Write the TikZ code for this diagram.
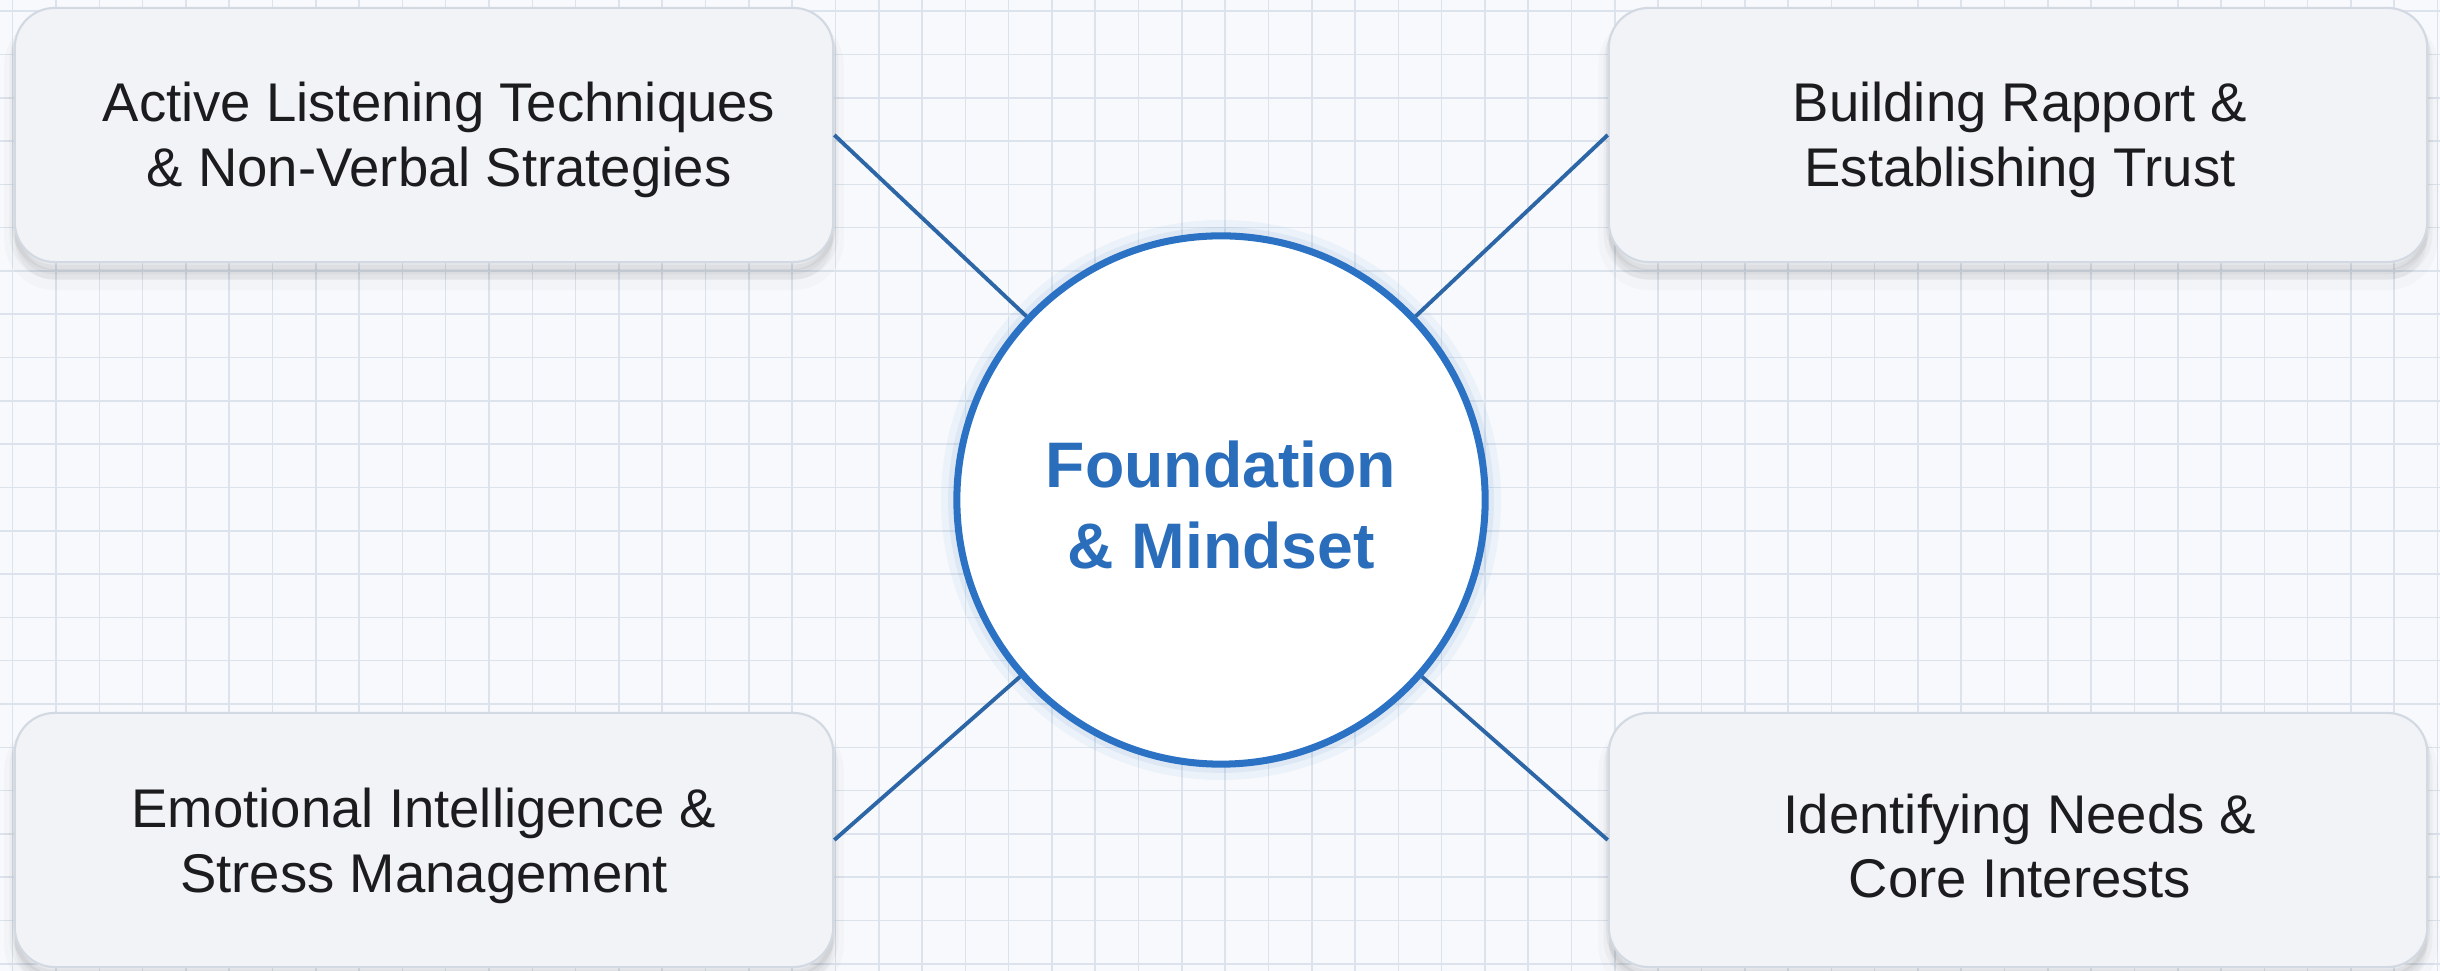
\documentclass[tikz,border=0pt]{standalone}
\usepackage{fontspec}
\setmainfont{Liberation Sans}
\definecolor{paper}{HTML}{F7F9FC}
\definecolor{gridc}{HTML}{DCE3EC}
\definecolor{boxfill}{HTML}{F1F3F7}
\definecolor{boxedge}{HTML}{D3D9E2}
\definecolor{ink}{HTML}{1C1C1E}
\definecolor{hubblue}{HTML}{2B72C4}
\definecolor{hubtext}{HTML}{2A6DBB}
\definecolor{linkblue}{HTML}{2C66A6}
\begin{document}
\begin{tikzpicture}[x=0.01cm,y=-0.01cm,
  gridline/.style={draw=gridc, line width=0.45pt},
  topicbox/.style={rectangle, rounded corners=0.4cm, fill=boxfill, draw=boxedge,
    line width=0.6pt, minimum width=8.18cm, minimum height=2.54cm, inner sep=0pt,
    preaction={fill=black, fill opacity=0.03, draw=black, draw opacity=0.02, line width=6pt, transform canvas={yshift=-5pt}},
    preaction={fill=black, fill opacity=0.03, draw=black, draw opacity=0.03, line width=3pt, transform canvas={yshift=-3.5pt}},
    preaction={draw=black, draw opacity=0.04, line width=1.5pt, transform canvas={yshift=-1.5pt}}},
  topictext/.style={text=ink, align=center, inner sep=0pt,
    font=\fontsize{15.5pt}{18.4pt}\selectfont},
  hub/.style={circle, minimum size=5.28cm, inner sep=0pt, fill=white,
    draw=hubblue, line width=2pt,
    preaction={draw=hubblue, draw opacity=0.05, line width=9pt},
    preaction={draw=hubblue, draw opacity=0.07, line width=5pt}},
  hubtext/.style={text=hubtext, align=center, inner sep=0pt,
    font=\fontsize{18.3pt}{23.2pt}\selectfont\bfseries},
  link/.style={draw=linkblue, line width=1.1pt}]

% paper and square grid
\fill[paper] (0,0) rectangle (2440,971);
\useasboundingbox (0,0) rectangle (2440,971);
\foreach \i in {0,...,56} \draw[gridline] ({12.7+43.3*\i},0) -- ({12.7+43.3*\i},971);
\foreach \j in {0,...,22} \draw[gridline] (0,{11.2+43.3*\j}) -- (2440,{11.2+43.3*\j});

% topic boxes
\node[topicbox] (tl) at (424,135) {};
\node[topicbox] (tr) at (2018,135) {};
\node[topicbox] (bl) at (424,840) {};
\node[topicbox] (br) at (2018,840) {};

\node[topictext] (tlt) at (439,140) {Active Listening Techniques\\\& Non-Verbal Strategies};
\node[topictext] (trt) at (2020,140) {Building Rapport \&\\Establishing Trust};
\node[topictext] (blt) at (424,846) {Emotional Intelligence \&\\Stress Management};
\node[topictext] (brt) at (2020,846) {Identifying Needs \&\\Core Interests};

% central hub
\node[hub] (hub) at (1221,500) {};
\node[hubtext] (hubt) at (1221,505) {Foundation\\\& Mindset};

% connectors from each topic to the hub
\draw[link] (tl.east) -- (hub);
\draw[link] (tr.west) -- (hub);
\draw[link] (bl.east) -- (hub);
\draw[link] (br.west) -- (hub);
\end{tikzpicture}
\end{document}
